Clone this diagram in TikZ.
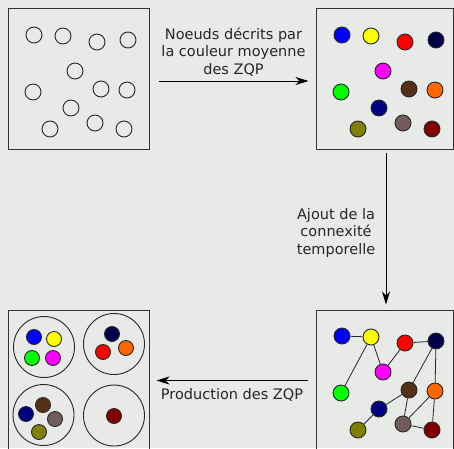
\documentclass[tikz,border=0pt]{standalone}
\usepackage{fontspec}
\setmainfont{DejaVu Sans}
\usepackage{xcolor}
\usepackage{tikz}
\usetikzlibrary{positioning, arrows.meta, calc}
\definecolor{bggray}{RGB}{232, 234, 232}
\definecolor{zqpblue}{RGB}{0, 0, 255}
\definecolor{zqpyellow}{RGB}{255, 255, 0}
\definecolor{zqpred}{RGB}{255, 0, 0}
\definecolor{zqpnavy}{RGB}{0, 0, 72}
\definecolor{zqpmagenta}{RGB}{255, 0, 255}
\definecolor{zqpgreen}{RGB}{0, 255, 0}
\definecolor{zqpbrown}{RGB}{85, 48, 24}
\definecolor{zqporange}{RGB}{255, 102, 0}
\definecolor{zqpnavyb}{RGB}{0, 0, 128}
\definecolor{zqpolive}{RGB}{128, 128, 0}
\definecolor{zqptaupe}{RGB}{115, 92, 92}
\definecolor{zqpmaroon}{RGB}{128, 0, 0}
\tikzset{
  panel/.style={draw=black!80, line width=1pt, inner sep=0pt,
                minimum width=#1, minimum height=141pt},
  zone/.style={circle, draw=black!85, line width=0.9pt, inner sep=0pt,
               minimum size=16pt},
  zqp/.style={zone, fill=#1},
  small/.style={zone, fill=#1, minimum size=15pt},
  cluster/.style={circle, draw=black!85, line width=0.9pt, inner sep=0pt,
                  minimum size=61pt},
  link/.style={line width=0.8pt, black!85},
  arr/.style={-{Stealth[length=13pt, width=8pt, inset=4pt]}, line width=0.9pt},
  lbl/.style={font=\fontsize{14.5}{17.5}\selectfont, align=center, text=black!85},
}

\begin{document}
\begin{tikzpicture}[x=1pt, y=-1pt]
  \fill[bggray] (0,0) rectangle (454,448);
  \useasboundingbox (0,0) rectangle (454,448);

  % panels
  \node[panel=141pt] (box1) at (78.5,78.5) {};
  \node[panel=137pt] (box2) at (384.5,78.5) {};
  \node[panel=137pt] (box3) at (384.5,380.5) {};
  \node[panel=141pt] (box4) at (78.5,380.5) {};

  % ---- zones: empty, coloured, coloured + links ----
  \foreach \i/\x/\y/\c in {1/342/35/zqpblue, 2/371/36/zqpyellow,
                           3/405/42/zqpred, 4/436/40/zqpnavy,
                           5/383/71/zqpmagenta, 6/341/92/zqpgreen,
                           7/409/89/zqpbrown, 8/435/90/zqporange,
                           9/379/108/zqpnavyb, 10/358/129/zqpolive,
                           11/403/123/zqptaupe, 12/432/129/zqpmaroon}
  {
    \node[zone] (e\i) at (\x-308,\y) {};
    \node[zqp=\c] (n\i) at (\x,\y) {};
    \node[zqp=\c] (g\i) at (\x,\y+301) {};
  }
  \foreach \a/\b in {1/2, 2/6, 2/5, 5/3, 3/4, 4/7, 4/8, 7/9, 9/10,
                     7/11, 8/11, 8/12, 11/12}
    \draw[link] (g\a) -- (g\b);

  % ---- produced ZQP ----
  \node[cluster] (k1) at (44,347) {};
  \node[cluster] (k2) at (114,344) {};
  \node[cluster] (k3) at (43.5,415) {};
  \node[cluster] (k4) at (114,415.5) {};
  \foreach \i/\x/\y/\c in {1/34/337/zqpblue, 2/54/339/zqpyellow,
                           6/32/358/zqpgreen, 5/53/358/zqpmagenta,
                           4/112/334/zqpnavy, 3/103/352/zqpred,
                           8/126/348/zqporange, 9/26/414/zqpnavyb,
                           7/43/405/zqpbrown, 11/55/419/zqptaupe,
                           10/39/432/zqpolive, 12/114/416/zqpmaroon}
    \node[small=\c] (s\i) at (\x,\y) {};

  % ---- steps ----
  \draw[arr] ($(box1.east)+(9,2.5)$) -- ($(box2.west)+(-7,2.5)$)
    node[midway, above=1pt, lbl] {Noeuds décrits par\\la couleur moyenne\\des ZQP};
  \draw[arr] ($(box2.south)+(1.5,3)$) -- ($(box3.north)+(1.5,-5)$)
    node[midway, left=7pt, yshift=-4pt, lbl] {Ajout de la\\connexité\\temporelle};
  \draw[arr] ($(box3.west)+(-8,0)$) -- ($(box4.east)+(7,0)$)
    node[midway, below=4pt, lbl] {Production des ZQP};
\end{tikzpicture}
\end{document}
